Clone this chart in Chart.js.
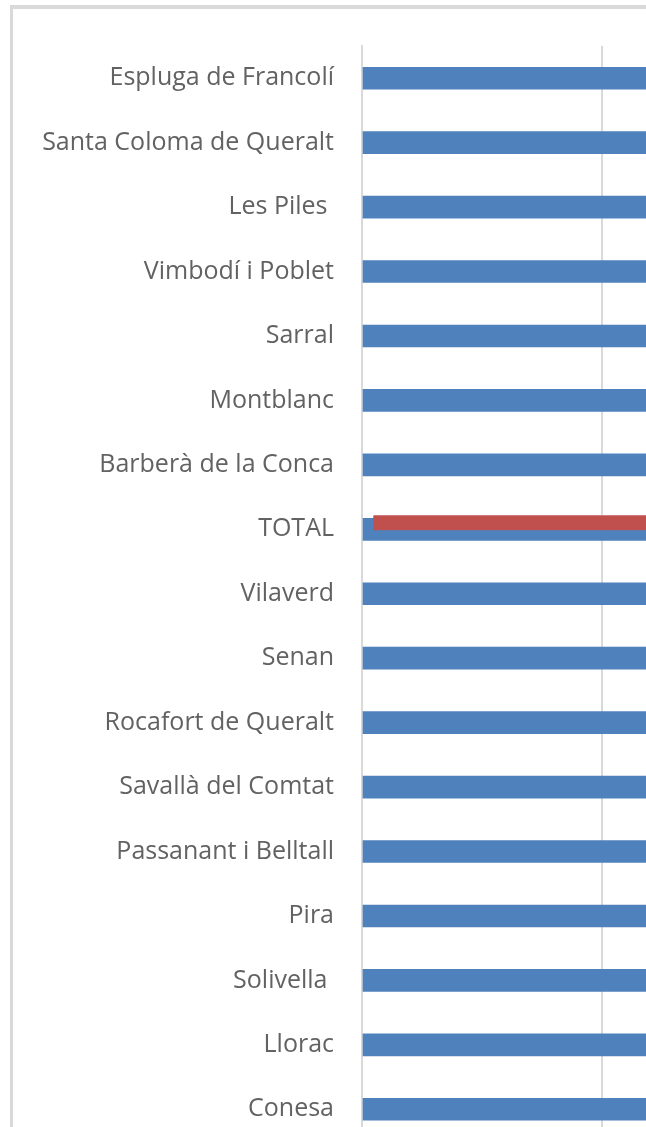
<!DOCTYPE html>
<html>
<head>
<meta charset="utf-8">
<script src="https://cdn.jsdelivr.net/npm/chart.js@4/dist/chart.umd.min.js"></script>
<style>
  html, body { margin: 0; padding: 0; background: #ffffff; overflow: hidden; width: 646px; height: 1127px; }
  #frame { position: absolute; left: 10px; top: 5px; width: 2000px; height: 2000px;
           border-left: 3px solid #d9d9d9; border-top: 4px solid #d9d9d9; box-sizing: border-box; }
  #wrap { position: absolute; left: 0; top: 0; width: 1600px; height: 1200px; }
</style>
</head>
<body>
<div id="frame"></div>
<div id="wrap"><canvas id="c"></canvas></div>
<script>
// Categories (top to bottom)
const categories = [
  "Espluga de Francolí",
  "Santa Coloma de Queralt",
  "Les Piles ",
  "Vimbodí i Poblet",
  "Sarral",
  "Montblanc",
  "Barberà de la Conca",
  "TOTAL",
  "Vilaverd",
  "Senan",
  "Rocafort de Queralt",
  "Savallà del Comtat",
  "Passanant i Belltall",
  "Pira",
  "Solivella ",
  "Llorac",
  "Conesa"
];
// Blue series values (bars extend beyond the visible crop; estimated)
const blueValues = [45, 42, 40, 38, 36, 35, 33, 32, 31, 30, 28, 26, 24, 22, 20, 18, 15];
// Red overlay for TOTAL: [start, end]
const redTotalIndex = 7;
const redTotalRange = [0.47, 32];
// Axis bounds/ticks
const xMin = 0, xMax = 50, xStep = 10;

const ctx = document.getElementById('c');
new Chart(ctx, {
  type: 'bar',
  data: {
    labels: categories,
    datasets: [
      {
        label: 'Municipis',
        data: blueValues,
        backgroundColor: '#4F81BD',
        barThickness: 22,
        yAxisID: 'y',
        order: 2
      },
      {
        label: 'TOTAL',
        data: [{ x: redTotalRange, y: redTotalIndex - 0.1 }],
        backgroundColor: '#C0504D',
        borderColor: '#d27a77',
        borderWidth: { top: 1, left: 0, right: 0, bottom: 0 },
        borderSkipped: false,
        barThickness: 15,
        yAxisID: 'y2',
        order: 1
      }
    ]
  },
  options: {
    indexAxis: 'y',
    responsive: true,
    maintainAspectRatio: false,
    animation: false,
    layout: { padding: { top: 46, bottom: 58.5, left: 0, right: 40 } },
    plugins: { legend: { display: false }, tooltip: { enabled: false } },
    datasets: { bar: { grouped: false } },
    scales: {
      x: {
        min: xMin, max: xMax,
        ticks: { display: false, stepSize: xStep },
        grid: { color: '#d9d9d9', lineWidth: 2, drawTicks: false },
        border: { display: false }
      },
      y: {
        type: 'category',
        offset: true,
        grid: { display: false, drawTicks: false },
        border: { display: true, color: '#d9d9d9', width: 2 },
        ticks: {
          color: '#626262',
          font: { family: 'Open Sans', size: 25 },
          padding: 28,
          autoSkip: false
        },
        afterFit: (s) => { s.width = 362; }
      },
      y2: {
        type: 'linear',
        display: false,
        reverse: true,
        offset: false,
        bounds: 'data',
        grace: 0,
        min: -0.5,
        max: categories.length - 0.5
      }
    }
  }
});
</script>
</body>
</html>
